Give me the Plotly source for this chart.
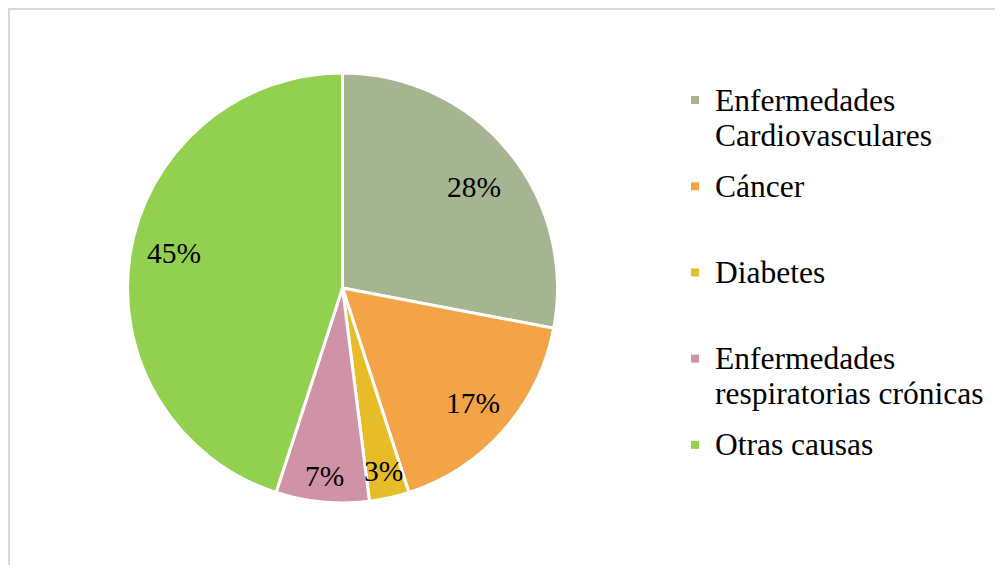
import math
import plotly.graph_objects as go

categories = [
    "Enfermedades Cardiovasculares",
    "Cáncer",
    "Diabetes",
    "Enfermedades respiratorias crónicas",
    "Otras causas",
]
legend_lines = [
    ["Enfermedades", "Cardiovasculares"],
    ["Cáncer", "\u00a0"],
    ["Diabetes", "\u00a0"],
    ["Enfermedades", "respiratorias crónicas"],
    ["Otras causas", "\u00a0"],
]
values = [28, 17, 3, 7, 45]
colors = ["#A5B592", "#F3A447", "#E7BC29", "#D092A7", "#92D050"]

# style: placement of each percentage label (fraction of radius, angular nudge in degrees)
label_radius = [0.772, 0.81, 0.87, 0.88, 0.80]
label_nudge = [2.0, 0.0, 0.0, 0.0, 2.7]

W, H = 1003, 565
FONT = "Liberation Serif"
CX, CY, R = 334.5, 280, 215
T, B = CY - R, H - (CY + R)

fig = go.Figure()
fig.add_trace(
    go.Pie(
        labels=categories,
        values=values,
        sort=False,
        direction="clockwise",
        rotation=0,
        marker=dict(colors=colors, line=dict(color="white", width=3)),
        textinfo="none",
        domain=dict(x=[(CX - R) / W, (CX + R) / W], y=[0, 1]),
        hoverinfo="label+percent",
        showlegend=False,
    )
)

# legend entries (one per category) so the gap between entries can be set
for i, (lines, c) in enumerate(zip(legend_lines, colors)):
    name = "<br>".join(f"<span style='font-size:31.5px'>{ln}</span>" for ln in lines)
    fig.add_trace(
        go.Scatter(
            x=[None], y=[None], mode="markers",
            marker=dict(symbol="square", size=8, color=c),
            name=name, legendgroup=f"g{i}", showlegend=True, hoverinfo="skip",
        )
    )

# percentage labels placed at each slice's mid angle
total = sum(values)
annotations = []
cum = 0
for v, fr, nd in zip(values, label_radius, label_nudge):
    mid = (cum + v / 2) / total * 2 * math.pi + math.radians(nd)
    cum += v
    px = CX + fr * R * math.sin(mid)
    py = CY - fr * R * math.cos(mid)
    annotations.append(
        dict(
            x=px / W, y=((H - B) - py) / (H - T - B), xref="paper", yref="paper",
            text=f"{round(v / total * 100)}%", showarrow=False,
            xanchor="center", yanchor="middle",
            font=dict(family=FONT, size=29.5, color="black"),
        )
    )

fig.update_layout(
    width=W,
    height=H,
    margin=dict(l=0, r=0, t=T, b=B),
    paper_bgcolor="white",
    plot_bgcolor="white",
    font=dict(family=FONT, size=27, color="black"),
    xaxis=dict(visible=False),
    yaxis=dict(visible=False),
    showlegend=True,
    annotations=annotations,
    legend=dict(
        x=667 / W,
        xanchor="left",
        y=0.993,
        yanchor="top",
        valign="top",
        tracegroupgap=13,
        font=dict(family=FONT, size=27, color="black"),
        bgcolor="rgba(0,0,0,0)",
        itemclick=False,
        itemdoubleclick=False,
    ),
    shapes=[
        dict(
            type="rect", xref="paper", yref="paper",
            x0=1 / W, x1=1.05,
            y0=-0.3, y1=((H - B) - 1) / (H - T - B),
            line=dict(color="#D9D9D9", width=2),
            fillcolor="rgba(0,0,0,0)",
            layer="below",
        )
    ],
)

fig.write_html("out.html")
